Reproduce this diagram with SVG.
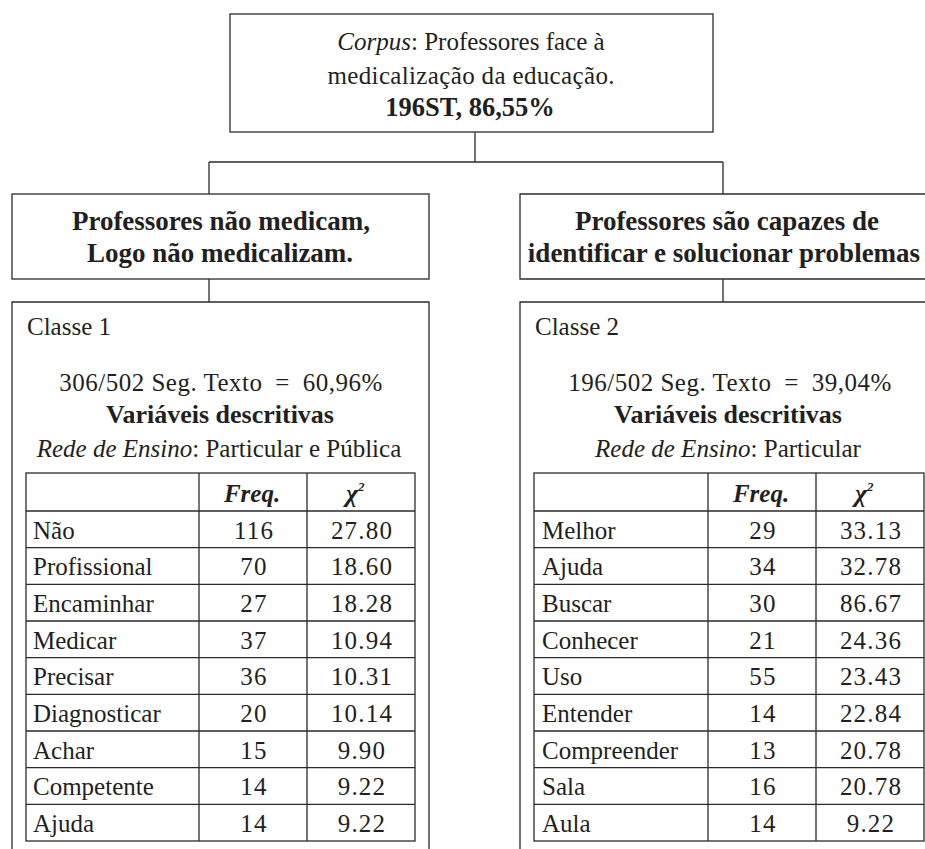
<svg xmlns="http://www.w3.org/2000/svg" width="925" height="849" viewBox="0 0 925 849">
<style>
text{font-family:"Liberation Serif","DejaVu Serif",serif;font-size:25px;fill:#231f20}
.b{font-weight:bold}
.h{font-size:27px}
.i{font-style:italic}
.c{text-anchor:middle}
.s{letter-spacing:0.5px}
.n{text-anchor:middle;letter-spacing:1.2px}
.ln{fill:none;stroke:#2b2b2b;stroke-width:1.3}
</style>
<rect width="925" height="849" fill="#fff"/>
<g id="connectors" class="ln">
<path d="M475 132V162M209 162H723M209 162V194M723 162V194M209 279V302M723 279V302"/>
</g>
<g id="node-corpus">
<rect class="ln" x="230" y="14" width="483" height="118"/>
<text class="c" x="471" y="50"><tspan class="i">Corpus</tspan>: Professores face à</text>
<text class="c" x="471" y="84" textLength="287" lengthAdjust="spacing">medicalização da educação.</text>
<text class="c b" x="470" y="116" style="font-size:26.5px">196ST, 86,55%</text>
</g>
<g id="node-left-header">
<rect class="ln" x="12" y="194" width="417" height="85"/>
<text class="c b h" x="221" y="230">Professores não medicam,</text>
<text class="c b h" x="220" y="262">Logo não medicalizam.</text>
</g>
<g id="node-right-header">
<path class="ln" d="M930 194H520V279H930"/>
<text class="c b h" x="727" y="230">Professores são capazes de</text>
<text class="c b h" x="724" y="262">identificar e solucionar problemas</text>
</g>
<g id="node-class1">
<path class="ln" d="M12 852V302H429V852"/>
<text x="27" y="335">Classe 1</text>
<text class="c s" x="221" y="391">306/502 Seg. Texto <tspan dx="6">=</tspan> <tspan dx="6">60,96%</tspan></text>
<text class="c b" x="220" y="423" style="font-size:26px">Variáveis descritivas</text>
<text class="c" x="219" y="457"><tspan class="i">Rede de Ensino</tspan>: Particular e Pública</text>
<g class="ln">
<rect x="26" y="473" width="389" height="368"/>
<path d="M199 473V841M307 473V841M26 511H415M26 547.7H415M26 584.3H415M26 621H415M26 657.7H415M26 694.3H415M26 731H415M26 767.7H415M26 804.3H415"/>
</g>
<text class="c b i" x="252" y="502">Freq.</text>
<text class="b i" x="346" y="502" style="font-size:26px">χ<tspan font-size="13" dy="-11">2</tspan></text>
<text x="33" y="538.5">Não</text><text class="n" x="254" y="538.5">116</text><text class="n" x="362" y="538.5">27.80</text>
<text x="33" y="575.2">Profissional</text><text class="n" x="254" y="575.2">70</text><text class="n" x="362" y="575.2">18.60</text>
<text x="33" y="611.8">Encaminhar</text><text class="n" x="254" y="611.8">27</text><text class="n" x="362" y="611.8">18.28</text>
<text x="33" y="648.5">Medicar</text><text class="n" x="254" y="648.5">37</text><text class="n" x="362" y="648.5">10.94</text>
<text x="33" y="685.2">Precisar</text><text class="n" x="254" y="685.2">36</text><text class="n" x="362" y="685.2">10.31</text>
<text x="33" y="721.8">Diagnosticar</text><text class="n" x="254" y="721.8">20</text><text class="n" x="362" y="721.8">10.14</text>
<text x="33" y="758.5">Achar</text><text class="n" x="254" y="758.5">15</text><text class="n" x="362" y="758.5">9.90</text>
<text x="33" y="795.2">Competente</text><text class="n" x="254" y="795.2">14</text><text class="n" x="362" y="795.2">9.22</text>
<text x="33" y="831.8">Ajuda</text><text class="n" x="254" y="831.8">14</text><text class="n" x="362" y="831.8">9.22</text>
</g>
<g id="node-class2">
<path class="ln" d="M930 302H520V852"/>
<text x="535" y="335">Classe 2</text>
<text class="c s" x="730" y="391">196/502 Seg. Texto <tspan dx="6">=</tspan> <tspan dx="6">39,04%</tspan></text>
<text class="c b" x="728" y="423" style="font-size:26px">Variáveis descritivas</text>
<text class="c" x="728" y="457"><tspan class="i">Rede de Ensino</tspan>: Particular</text>
<g class="ln">
<rect x="534" y="473" width="390" height="368"/>
<path d="M708 473V841M816 473V841M534 511H924M534 547.7H924M534 584.3H924M534 621H924M534 657.7H924M534 694.3H924M534 731H924M534 767.7H924M534 804.3H924"/>
</g>
<text class="c b i" x="761" y="502">Freq.</text>
<text class="b i" x="855" y="502" style="font-size:26px">χ<tspan font-size="13" dy="-11">2</tspan></text>
<text x="542" y="538.5">Melhor</text><text class="n" x="763" y="538.5">29</text><text class="n" x="871" y="538.5">33.13</text>
<text x="542" y="575.2">Ajuda</text><text class="n" x="763" y="575.2">34</text><text class="n" x="871" y="575.2">32.78</text>
<text x="542" y="611.8">Buscar</text><text class="n" x="763" y="611.8">30</text><text class="n" x="871" y="611.8">86.67</text>
<text x="542" y="648.5">Conhecer</text><text class="n" x="763" y="648.5">21</text><text class="n" x="871" y="648.5">24.36</text>
<text x="542" y="685.2">Uso</text><text class="n" x="763" y="685.2">55</text><text class="n" x="871" y="685.2">23.43</text>
<text x="542" y="721.8">Entender</text><text class="n" x="763" y="721.8">14</text><text class="n" x="871" y="721.8">22.84</text>
<text x="542" y="758.5">Compreender</text><text class="n" x="763" y="758.5">13</text><text class="n" x="871" y="758.5">20.78</text>
<text x="542" y="795.2">Sala</text><text class="n" x="763" y="795.2">16</text><text class="n" x="871" y="795.2">20.78</text>
<text x="542" y="831.8">Aula</text><text class="n" x="763" y="831.8">14</text><text class="n" x="871" y="831.8">9.22</text>
</g>
</svg>
